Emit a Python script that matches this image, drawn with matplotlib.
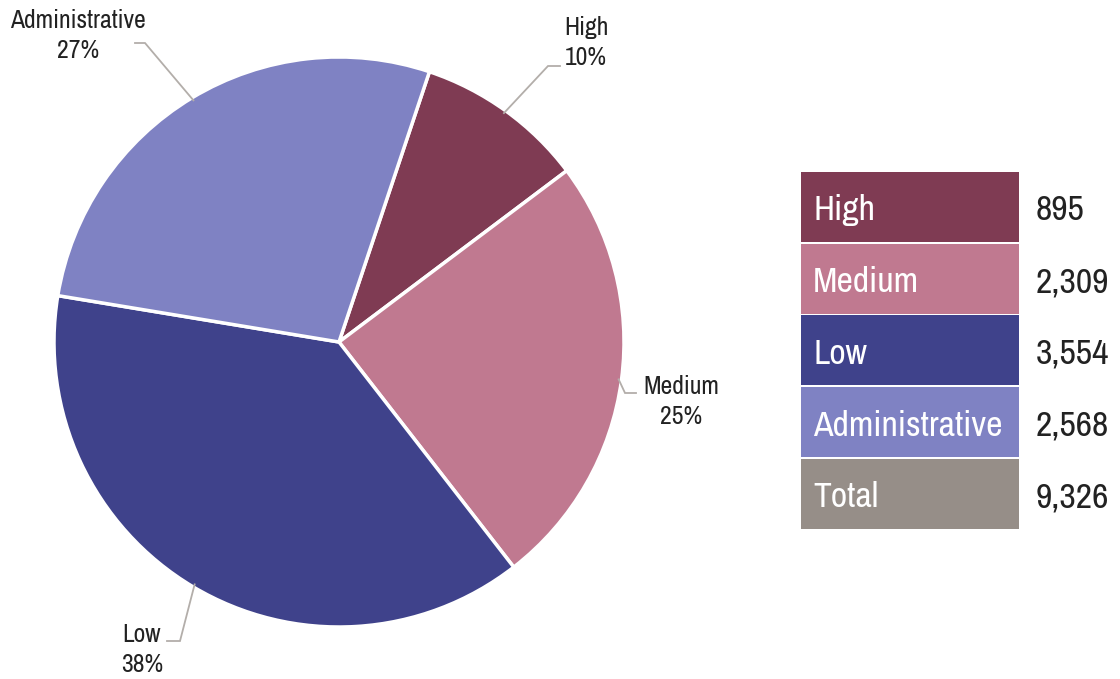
import numpy as np
import matplotlib
matplotlib.use("Agg")
import matplotlib.pyplot as plt
from matplotlib.patches import Rectangle

plt.rcParams['font.family'] = ['Archivo Narrow', 'Roboto Condensed', 'IBM Plex Sans Condensed',
                               'Liberation Sans', 'DejaVu Sans']

# ---- data ----
categories = ["High", "Medium", "Low", "Administrative"]
values = [895, 2309, 3554, 2568]
total_label = "Total"

# ---- styles ----
colors = ["#7F3B53", "#C07990", "#3F428B", "#7F82C3"]
total_color = "#968E88"
text_color = "#222222"
leader_color = "#B3AEAA"

W, H = 1120, 679
fig = plt.figure(figsize=(W / 100, H / 100), dpi=100)

# pie placement in pixels
cx, cy, R = 339, 342, 285
ax = fig.add_axes([(cx - R) / W, (H - cy - R) / H, 2 * R / W, 2 * R / H])
ax.axis('off')

wedges, _ = ax.pie(values, colors=colors, startangle=71.5, counterclock=False,
                   radius=1, center=(0, 0),
                   wedgeprops=dict(edgecolor='white', linewidth=2.5))
ax.set_xlim(-1, 1)
ax.set_ylim(-1, 1)

# percentages via largest remainder so they sum to 100
vals = np.array(values, dtype=float)
raw = vals / vals.sum() * 100
fl = np.floor(raw).astype(int)
rem = raw - fl
need = 100 - fl.sum()
for i in np.argsort(-rem)[:need]:
    fl[i] += 1
pcts = fl

def px(x, y):
    return (x - cx) / R, (cy - y) / R

# label layout (pixels): elbow, line end, text center x, first baseline y
label_layout = {
    "High": dict(elbow=(548, 66), end=(560, 66), tx=586, by=35),
    "Medium": dict(elbow=(625, 393), end=(636, 393), tx=681, by=394),
    "Low": dict(elbow=(180, 641), end=(167, 641), tx=142, by=642),
    "Administrative": dict(elbow=(145, 43), end=(135, 43), tx=78, by=28),
}
line_gap = 30

for w, cat, p in zip(wedges, categories, pcts):
    mid = np.deg2rad((w.theta1 + w.theta2) / 2)
    sx, sy = 0.99 * np.cos(mid), 0.99 * np.sin(mid)
    lay = label_layout[cat]
    ex, ey = px(*lay['elbow'])
    fx, fy = px(*lay['end'])
    ax.plot([sx, ex, fx], [sy, ey, fy], color=leader_color, lw=1.3,
            clip_on=False, solid_joinstyle='miter')
    for k, s in enumerate([cat, f"{p}%"]):
        tx, ty = px(lay['tx'], lay['by'] + k * line_gap)
        ax.text(tx, ty, s, ha='center', va='baseline', fontsize=18.5,
                color=text_color)

# table / legend
tx0, ty0, tx1, ty1 = 801, 172, 1120, 530
tax = fig.add_axes([tx0 / W, (H - ty1) / H, (tx1 - tx0) / W, (ty1 - ty0) / H])
tax.set_xlim(0, tx1 - tx0)
tax.set_ylim(ty1 - ty0, 0)
tax.axis('off')

rows = categories + [total_label]
row_vals = values + [sum(values)]
row_cols = colors + [total_color]
pitch = 71.67
bh = 70
bw = 218
for i, (name, v, c) in enumerate(zip(rows, row_vals, row_cols)):
    y = i * pitch
    tax.add_patch(Rectangle((0, y), bw, bh, facecolor=c, edgecolor='none'))
    tax.text(12, y + 48.5, name, ha='left', va='baseline', fontsize=25.8,
             color='white')
    tax.text(234.5, y + 48.5, f"{v:,}", ha='left', va='baseline', fontsize=25.8,
             color=text_color)

fig.savefig("out.png", dpi=100)
